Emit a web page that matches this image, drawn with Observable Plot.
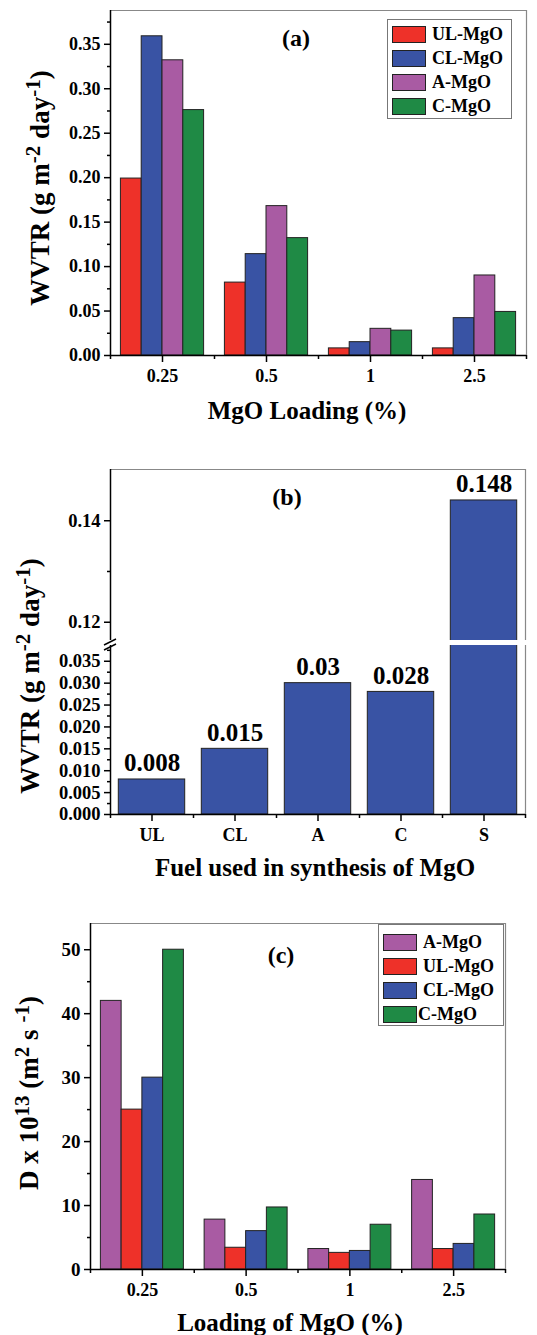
<!DOCTYPE html>
<html><head><meta charset="utf-8">
<script src="https://cdn.jsdelivr.net/npm/d3@7"></script>
<script src="https://cdn.jsdelivr.net/npm/@observablehq/plot@0.6"></script>
<style>
body{margin:0;background:#fff;}
#root{position:relative;width:537px;height:1335px;overflow:hidden;font-family:"Liberation Serif","Times New Roman",serif;font-weight:bold;color:#000;background:#fff;}
#root svg{position:absolute;left:0;}
.t{position:absolute;white-space:nowrap;transform:translate(-50%,-50%);line-height:1;}
.ry{transform:translate(-50%,-50%) rotate(-90deg);}
sup{font-size:78%;vertical-align:0.42em;line-height:0;}
.legend{position:absolute;border:1px solid #777;background:#fff;box-sizing:border-box;}
.row{position:absolute;left:4px;height:18px;display:flex;align-items:center;font-size:18px;white-space:nowrap;}
.sw{width:34px;height:17px;border:1px solid #222;box-sizing:border-box;margin-right:6px;flex:none;}
</style></head>
<body><div id="root"></div>
<script>
const FONT = '"Liberation Serif","Times New Roman",serif';

// ---------- Panel (a) data ----------
const loadingsA = ["0.25", "0.5", "1", "2.5"];
const seriesA = ["UL-MgO", "CL-MgO", "A-MgO", "C-MgO"];
const wvtrUL = [0.199, 0.082, 0.008, 0.008];
const wvtrCL = [0.359, 0.114, 0.015, 0.042];
const wvtrA  = [0.332, 0.168, 0.030, 0.090];
const wvtrC  = [0.276, 0.132, 0.028, 0.049];

// ---------- Panel (b) data ----------
const fuels = ["UL", "CL", "A", "C", "S"];
const wvtrFuel = [0.008, 0.015, 0.030, 0.028, 0.144];
const wvtrFuelLabels = ["0.008", "0.015", "0.03", "0.028", "0.148"];

// ---------- Panel (c) data ----------
const loadingsC = ["0.25", "0.5", "1", "2.5"];
const seriesC = ["A-MgO", "UL-MgO", "CL-MgO", "C-MgO"];
const diffA  = [42, 7.8, 3.2, 14];
const diffUL = [25, 3.4, 2.6, 3.2];
const diffCL = [30, 6.0, 2.9, 4.0];
const diffC  = [50, 9.7, 7.0, 8.6];

// tick values
const ticksA = [0, 0.05, 0.10, 0.15, 0.20, 0.25, 0.30, 0.35];
const minorA = [0.025, 0.075, 0.125, 0.175, 0.225, 0.275, 0.325, 0.375];
const ticksBLow = [0, 0.005, 0.010, 0.015, 0.020, 0.025, 0.030, 0.035];
const minorBLow = [0.0025, 0.0075, 0.0125, 0.0175, 0.0225, 0.0275, 0.0325, 0.0375];
const ticksBHigh = [0.12, 0.14];
const minorBHigh = [0.13];
const ticksC = [0, 10, 20, 30, 40, 50];
const minorC = [5, 15, 25, 35, 45];

const seriesColors = {"UL-MgO": "#ee3129", "CL-MgO": "#3953a4", "A-MgO": "#a95ba3", "C-MgO": "#1f8a45"};
const fuelColor = "#3953a4";

const root = document.getElementById("root");

function grouped(cats, series, values) {
  const rows = [];
  cats.forEach((c, gi) => series.forEach((s, si) => rows.push({cat: c, gi, series: s, si, value: values[si][gi]})));
  return rows;
}

function baseStyle() {
  return {fontFamily: FONT, fontSize: "18px", fontWeight: "bold", background: "transparent", overflow: "visible"};
}

function groupedPlot(o) {
  const n = o.cats.length, k = o.series.length, w = 0.8 / k;
  return Plot.plot({
    width: 537, height: o.height,
    marginLeft: o.ml, marginRight: o.mr, marginTop: o.mt, marginBottom: o.mb,
    style: baseStyle(),
    x: {type: "linear", domain: [-0.5, n - 0.5], label: null},
    y: {domain: [0, o.yMax], label: null},
    color: {domain: Object.keys(seriesColors), range: Object.values(seriesColors)},
    marks: [
      Plot.rectY(o.rows, {x1: d => d.gi - 0.4 + d.si * w, x2: d => d.gi - 0.4 + (d.si + 1) * w, y1: 0, y2: "value", fill: "series", stroke: "#222", strokeWidth: 1}),
      Plot.ruleY([o.yMax], {stroke: "#888", strokeWidth: 1.2}),
      Plot.ruleX([n - 0.5], {stroke: "#888", strokeWidth: 1.2}),
      Plot.ruleY([0], {stroke: "#000", strokeWidth: 1.5}),
      Plot.ruleX([-0.5], {stroke: "#000", strokeWidth: 1.5}),
      Plot.axisY({ticks: o.yTicks, tickFormat: o.fmt, tickSize: 6, tickPadding: 4, strokeWidth: 1.5, fontSize: o.fs, label: null}),
      Plot.axisY({ticks: o.yMinor, tickFormat: () => "", tickSize: 3, strokeWidth: 1.5, label: null}),
      Plot.axisX({ticks: d3.range(n), tickFormat: i => o.cats[i], tickSize: 7, tickPadding: 7, strokeWidth: 1.5, fontSize: 18, label: null}),
      Plot.axisX({ticks: d3.range(n + 1).map(i => i - 0.5), tickFormat: () => "", tickSize: 4, strokeWidth: 1.5, label: null})
    ]
  });
}

function place(svg, top) { svg.style.top = top + "px"; root.appendChild(svg); }

function addText(html, x, y, size, rotate) {
  const d = document.createElement("div");
  d.className = "t" + (rotate ? " ry" : "");
  d.style.left = x + "px"; d.style.top = y + "px"; d.style.fontSize = size + "px";
  d.innerHTML = html;
  root.appendChild(d);
}

function addLegend(series, left, top, w, h, rowTop0, rowStep, textShift) {
  const box = document.createElement("div");
  box.className = "legend";
  Object.assign(box.style, {left: left + "px", top: top + "px", width: w + "px", height: h + "px"});
  series.forEach((s, i) => {
    const r = document.createElement("div");
    r.className = "row";
    r.style.top = (rowTop0 + i * rowStep) + "px";
    const sw = document.createElement("div");
    sw.className = "sw"; sw.style.background = seriesColors[s];
    if (textShift && textShift[i]) sw.style.marginRight = (6 + textShift[i]) + "px";
    const tx = document.createElement("span"); tx.textContent = s;
    r.appendChild(sw); r.appendChild(tx); box.appendChild(r);
  });
  root.appendChild(box);
}

// ---------- Panel (a) ----------
place(groupedPlot({
  rows: grouped(loadingsA, seriesA, [wvtrUL, wvtrCL, wvtrA, wvtrC]),
  cats: loadingsA, series: seriesA, height: 400, ml: 110, mr: 11, mt: 10, mb: 45,
  yMax: 0.388, yTicks: ticksA, yMinor: minorA, fmt: d3.format(".2f"), fs: 18
}), 0);
addText("WVTR (g m<sup>-2</sup> day<sup>-1</sup>)", 40, 188, 27, true);
addText("MgO Loading (%)", 307, 410, 25);
addText("(a)", 296, 38, 24);
addLegend(seriesA, 387, 19, 125, 100, 5, 24.3);

// ---------- Panel (b) ----------
const fuelRows = fuels.map((f, i) => ({fuel: f, i, value: wvtrFuel[i], label: wvtrFuelLabels[i]}));
function fuelPlot(o) {
  return Plot.plot({
    width: 537, height: o.height,
    marginLeft: 110, marginRight: 12, marginTop: o.mt, marginBottom: o.mb,
    style: baseStyle(),
    x: {type: "linear", domain: [-0.5, fuels.length - 0.5], label: null, axis: o.bottom ? undefined : null},
    y: {domain: o.domain, label: null},
    marks: [
      Plot.rectY(fuelRows, {x1: d => d.i - 0.4, x2: d => d.i + 0.4, y1: 0, y2: "value", fill: fuelColor, stroke: "#222", strokeWidth: 1, clip: true}),
      Plot.text(fuelRows, {x: "i", y: "value", text: "label", dy: -16, fontSize: 25, fontWeight: "bold", fill: "#000", clip: true}),
      o.top ? Plot.ruleY([o.domain[1]], {stroke: "#888", strokeWidth: 1.2}) : null,
      Plot.ruleX([fuels.length - 0.5], {stroke: "#888", strokeWidth: 1.2}),
      Plot.ruleX([-0.5], {stroke: "#000", strokeWidth: 1.5}),
      o.bottom ? Plot.ruleY([0], {stroke: "#000", strokeWidth: 1.5}) : null,
      Plot.axisY({ticks: o.ticks, tickFormat: o.fmt, tickSize: 6, tickPadding: 4, strokeWidth: 1.5, fontSize: 18.5, label: null}),
      Plot.axisY({ticks: o.minor, tickFormat: () => "", tickSize: 3, strokeWidth: 1.5, label: null}),
      o.bottom ? Plot.axisX({ticks: d3.range(fuels.length), tickFormat: i => fuels[i], tickSize: 7, tickPadding: 7, strokeWidth: 1.5, fontSize: 18, label: null}) : null,
      o.bottom ? Plot.axisX({ticks: d3.range(fuels.length + 1).map(i => i - 0.5), tickFormat: () => "", tickSize: 4, strokeWidth: 1.5, label: null}) : null
    ]
  });
}
place(fuelPlot({height: 181, mt: 10, mb: 0, domain: [0.1164, 0.1501], ticks: ticksBHigh, minor: minorBHigh, fmt: d3.format(".2f"), top: true}), 459);
place(fuelPlot({height: 219, mt: 5, mb: 45, domain: [0, 0.0386], ticks: ticksBLow, minor: minorBLow, fmt: d3.format(".3f"), bottom: true}), 640);
// axis break marks
(function () {
  const ns = "http://www.w3.org/2000/svg";
  const s = document.createElementNS(ns, "svg");
  s.setAttribute("width", 20); s.setAttribute("height", 20);
  s.style.left = "100px"; s.style.top = "633px";
  [[4, 12, 16, 6], [4, 17, 16, 11]].forEach(([x1, y1, x2, y2]) => {
    const l = document.createElementNS(ns, "line");
    l.setAttribute("x1", x1); l.setAttribute("y1", y1); l.setAttribute("x2", x2); l.setAttribute("y2", y2);
    l.setAttribute("stroke", "#000"); l.setAttribute("stroke-width", 1.5);
    s.appendChild(l);
  });
  root.appendChild(s);
})();
addText("WVTR (g m<sup>-2</sup> day<sup>-1</sup>)", 30, 676, 27, true);
addText("Fuel used in synthesis of MgO", 315, 867, 25);
addText("(b)", 287, 497, 24);

// ---------- Panel (c) ----------
place(groupedPlot({
  rows: grouped(loadingsC, seriesC, [diffA, diffUL, diffCL, diffC]),
  cats: loadingsC, series: seriesC, height: 400, ml: 90, mr: 32, mt: 10, mb: 44,
  yMax: 54.1, yTicks: ticksC, yMinor: minorC, fmt: d3.format("d"), fs: 19
}), 913);
addText("D x 10<sup>13</sup> (m<sup>2</sup> s <sup>-1</sup>)", 29, 1093, 27, true);
addText("Loading of MgO (%)", 290, 1322, 25);
addText("(c)", 281, 955, 24);
addLegend(seriesC, 378, 924, 126, 102, 8, 24.2, [0, 0, 0, -5]);
</script>
</body></html>
